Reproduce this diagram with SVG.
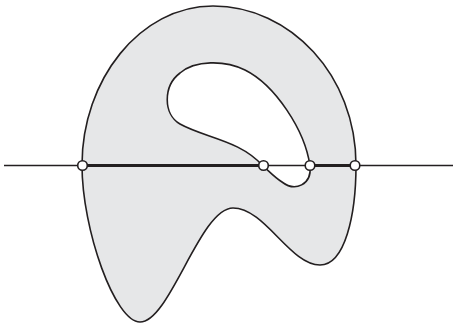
<svg xmlns="http://www.w3.org/2000/svg" width="453" height="325" viewBox="0 0 453 325">
<style>
.shape{fill:#e6e7e8;stroke:#231f20;stroke-width:1.6;fill-rule:evenodd}
.thin{stroke:#231f20;stroke-width:1.3;fill:none}
.thick{stroke:#231f20;stroke-width:3.2;fill:none}
.pt{fill:#fff;stroke:#231f20;stroke-width:1.6}
</style>
<rect width="453" height="325" fill="#fff"/>
<g id="region">
<path class="shape" d="M 82,165 C 82,80 140,6 213,6 C 290,6 356,75 356,165 C 356,215 345,265 320,265 C 290,265 265,208 233,208 C 200,208 170,322 140,322 C 115,322 82,230 82,165 Z M 263,166 C 240,140 205,138 180,124 C 163,114 163,86 180,73 C 195,60 225,60 245,70 C 275,85 305,130 310,166 C 312,185 295,192 282,182 C 273,176 268,170 263,166 Z"/>
</g>
<g id="connectors">
<line class="thin" x1="4" y1="165.5" x2="453" y2="165.5"/>
<line class="thick" x1="82" y1="165.5" x2="263" y2="165.5"/>
<line class="thick" x1="310" y1="165.5" x2="355" y2="165.5"/>
</g>
<g id="p1"><circle class="pt" cx="82.5" cy="165.5" r="4.8"/></g>
<g id="p2"><circle class="pt" cx="263.5" cy="165.5" r="4.8"/></g>
<g id="p3"><circle class="pt" cx="310" cy="165.5" r="4.8"/></g>
<g id="p4"><circle class="pt" cx="355" cy="165.5" r="4.8"/></g>
</svg>
